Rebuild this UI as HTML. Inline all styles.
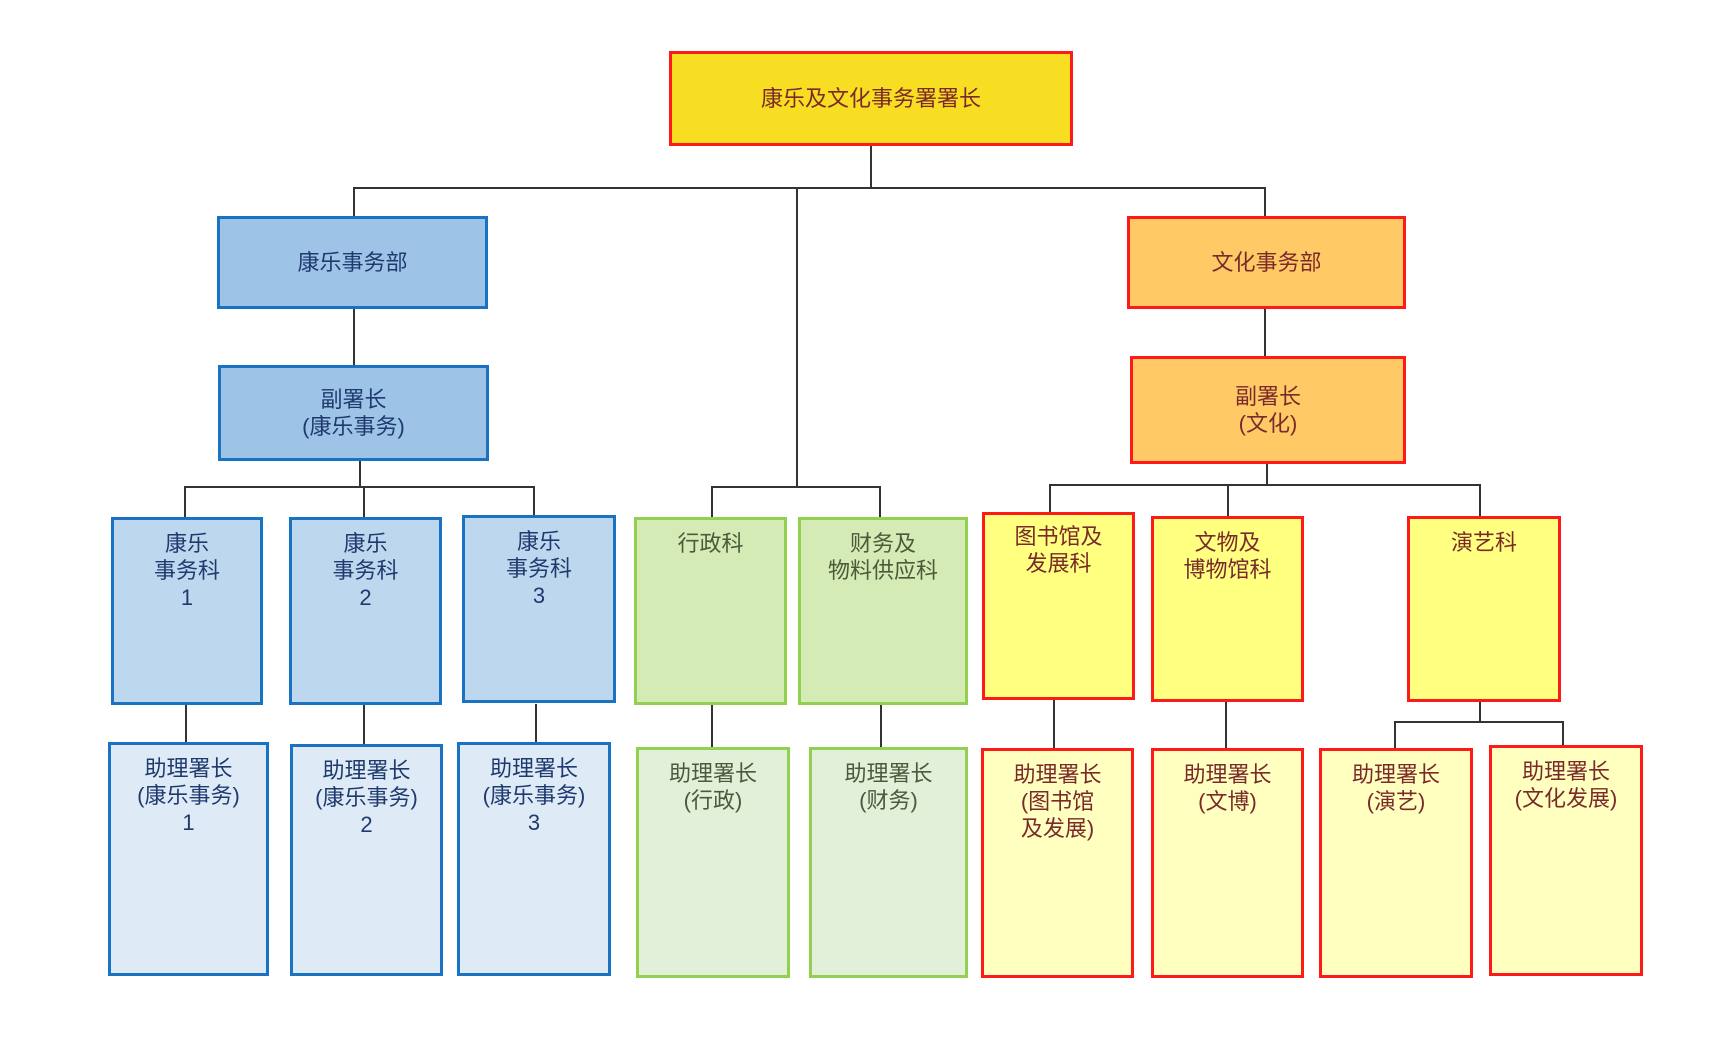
<!DOCTYPE html>
<html><head><meta charset="utf-8"><style>
body{margin:0;width:1726px;height:1055px;background:#fff;position:relative;overflow:hidden;font-family:"Liberation Sans","Noto Sans CJK SC",sans-serif;}
.b{position:absolute;box-sizing:border-box;border:3px solid;text-align:center;font-size:22px;line-height:27px;}
.c{display:flex;align-items:center;justify-content:center;}
.t{padding-top:10px;}
.bl{border-color:#1a72c2;color:#1f3a6e;}
.gr{border-color:#92d050;color:#4a5a3a;}
.rd{border-color:#ff1a1a;color:#7a2a2a;}
.l{position:absolute;background:#333;}
</style></head><body>
<!-- lines -->
<div class="l" style="left:870px;top:145px;width:2px;height:44px"></div>
<div class="l" style="left:353px;top:187px;width:913px;height:2px"></div>
<div class="l" style="left:353px;top:187px;width:2px;height:30px"></div>
<div class="l" style="left:1264px;top:187px;width:2px;height:30px"></div>
<div class="l" style="left:796px;top:187px;width:2px;height:300px"></div>
<div class="l" style="left:353px;top:309px;width:2px;height:56px"></div>
<div class="l" style="left:1264px;top:309px;width:2px;height:47px"></div>
<div class="l" style="left:359px;top:460px;width:2px;height:27px"></div>
<div class="l" style="left:184px;top:486px;width:351px;height:2px"></div>
<div class="l" style="left:184px;top:486px;width:2px;height:31px"></div>
<div class="l" style="left:363px;top:486px;width:2px;height:31px"></div>
<div class="l" style="left:533px;top:486px;width:2px;height:31px"></div>
<div class="l" style="left:711px;top:486px;width:170px;height:2px"></div>
<div class="l" style="left:711px;top:486px;width:2px;height:31px"></div>
<div class="l" style="left:879px;top:486px;width:2px;height:31px"></div>
<div class="l" style="left:1266px;top:464px;width:2px;height:21px"></div>
<div class="l" style="left:1049px;top:484px;width:432px;height:2px"></div>
<div class="l" style="left:1049px;top:484px;width:2px;height:30px"></div>
<div class="l" style="left:1227px;top:484px;width:2px;height:32px"></div>
<div class="l" style="left:1479px;top:484px;width:2px;height:32px"></div>
<div class="l" style="left:185px;top:704px;width:2px;height:40px"></div>
<div class="l" style="left:363px;top:704px;width:2px;height:40px"></div>
<div class="l" style="left:535px;top:704px;width:2px;height:40px"></div>
<div class="l" style="left:711px;top:704px;width:2px;height:44px"></div>
<div class="l" style="left:880px;top:700px;width:2px;height:48px"></div>
<div class="l" style="left:1053px;top:699px;width:2px;height:50px"></div>
<div class="l" style="left:1225px;top:701px;width:2px;height:48px"></div>
<div class="l" style="left:1479px;top:701px;width:2px;height:21px"></div>
<div class="l" style="left:1394px;top:721px;width:170px;height:2px"></div>
<div class="l" style="left:1394px;top:721px;width:2px;height:28px"></div>
<div class="l" style="left:1562px;top:721px;width:2px;height:26px"></div>
<!-- boxes -->
<div class="b c rd" style="left:669px;top:51px;width:404px;height:95px;background:#f8de22;">康乐及文化事务署署长</div>
<div class="b c bl" style="left:217px;top:216px;width:271px;height:93px;background:#9dc3e6;">康乐事务部</div>
<div class="b c bl" style="left:218px;top:365px;width:271px;height:96px;background:#9dc3e6;">副署长<br>(康乐事务)</div>
<div class="b c rd" style="left:1127px;top:216px;width:279px;height:93px;background:#ffc966;">文化事务部</div>
<div class="b c rd" style="left:1130px;top:356px;width:276px;height:108px;background:#ffc966;">副署长<br>(文化)</div>

<div class="b t bl" style="left:111px;top:517px;width:152px;height:188px;background:#bdd7ee;">康乐<br>事务科<br>1</div>
<div class="b t bl" style="left:289px;top:517px;width:153px;height:188px;background:#bdd7ee;">康乐<br>事务科<br>2</div>
<div class="b t bl" style="left:462px;top:515px;width:154px;height:188px;background:#bdd7ee;">康乐<br>事务科<br>3</div>
<div class="b t gr" style="left:634px;top:517px;width:153px;height:188px;background:#d5ebb5;">行政科</div>
<div class="b t gr" style="left:798px;top:517px;width:170px;height:188px;background:#d5ebb5;">财务及<br>物料供应科</div>
<div class="b t rd" style="left:982px;top:512px;width:153px;height:188px;background:#ffff80;padding-top:8px">图书馆及<br>发展科</div>
<div class="b t rd" style="left:1151px;top:516px;width:153px;height:186px;background:#ffff80;">文物及<br>博物馆科</div>
<div class="b t rd" style="left:1407px;top:516px;width:154px;height:186px;background:#ffff80;">演艺科</div>

<div class="b t bl" style="left:108px;top:742px;width:161px;height:234px;background:#deebf7;">助理署长<br>(康乐事务)<br>1</div>
<div class="b t bl" style="left:290px;top:744px;width:153px;height:232px;background:#deebf7;">助理署长<br>(康乐事务)<br>2</div>
<div class="b t bl" style="left:457px;top:742px;width:154px;height:234px;background:#deebf7;">助理署长<br>(康乐事务)<br>3</div>
<div class="b t gr" style="left:636px;top:747px;width:154px;height:231px;background:#e2f0d9;">助理署长<br>(行政)</div>
<div class="b t gr" style="left:809px;top:747px;width:159px;height:231px;background:#e2f0d9;">助理署长<br>(财务)</div>
<div class="b t rd" style="left:981px;top:748px;width:153px;height:230px;background:#ffffc0;">助理署长<br>(图书馆<br>及发展)</div>
<div class="b t rd" style="left:1151px;top:748px;width:153px;height:230px;background:#ffffc0;">助理署长<br>(文博)</div>
<div class="b t rd" style="left:1319px;top:748px;width:154px;height:230px;background:#ffffc0;">助理署长<br>(演艺)</div>
<div class="b t rd" style="left:1489px;top:745px;width:154px;height:231px;background:#ffffc0;">助理署长<br>(文化发展)</div>
</body></html>
